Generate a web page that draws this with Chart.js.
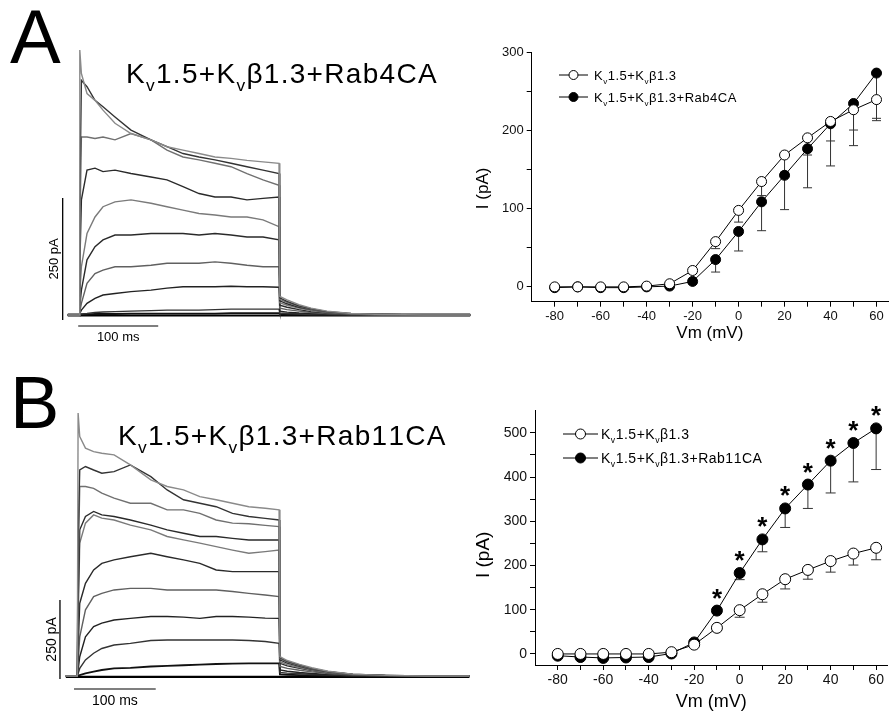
<!DOCTYPE html>
<html><head><meta charset="utf-8">
<script src="https://cdn.jsdelivr.net/npm/chart.js@4.4.1/dist/chart.umd.min.js"></script>
<style>
html,body{margin:0;padding:0;background:#fff;}
#page{position:relative;width:894px;height:715px;overflow:hidden;background:#fff;}
canvas{position:absolute;}
</style></head><body>
<div id="page">
<canvas id="trA" width="480" height="350" style="left:0;top:0"></canvas>
<canvas id="trB" width="480" height="355" style="left:0;top:360px"></canvas>
<canvas id="ivA" width="424" height="324" style="left:470px;top:20px"></canvas>
<canvas id="ivB" width="424" height="333" style="left:470px;top:380px"></canvas>
</div>
<script>
// ---------------- DATA ----------------
const V_MV = [-80,-70,-60,-50,-40,-30,-20,-10,0,10,20,30,40,50,60];
const X_TICKS = [-80,-70,-60,-50,-40,-30,-20,-10,0,10,20,30,40,50,60];
const Y_TICKS_A = [0,50,100,150,200,250,300];
const Y_TICKS_B = [0,50,100,150,200,250,300,350,400,450,500];

const NAME_CTRL  = 'Kv1.5+Kvβ1.3';
const NAME_RAB4  = 'Kv1.5+Kvβ1.3+Rab4CA';
const NAME_RAB11 = 'Kv1.5+Kvβ1.3+Rab11CA';

const A_CTRL     = [-1,-1,-1,-1,0,3,20,57,97,134,168,190,211,226,239];
const A_CTRL_ERR = [1,1,1,1,1,2,4,9,15,18,22,22,25,26,27];
const A_RAB4     = [-2,-1,-2,-2,-1,0,6,34,70,108,142,176,208,234,273];
const A_RAB4_ERR = [1,1,1,1,1,1,3,16,25,37,44,50,54,54,58];

const B_CTRL      = [0,0,0,0,0,4,21,59,99,135,169,190,210,227,240];
const B_CTRL_ERR  = [1,1,1,1,1,2,4,6,16,18,22,21,25,26,27];
const B_RAB11     = [-4,-7,-9,-8,-7,1,26,98,183,259,329,383,437,477,510];
const B_RAB11_ERR = [2,2,2,2,2,2,4,6,15,28,43,54,73,88,93];
const B_STARS     = [-10,0,10,20,30,40,50,60];

const SCALE_PA = 250, SCALE_MS = 100;

// current traces (ms, pA)
const TIME_A = [-14,0,1,3,10,20,30,45,65,90,110,130,150,170,190,210,230,250,251,260,275,290,310,340,380,430,489];
const A_T1  = [0,0,543,495,454,440,420,393,372,359,345,338,331,324,321,317,314,311,38,31,21,14,8,3,1,0,0];
const A_T2  = [0,0,235,481,468,440,427,406,379,359,345,331,324,318,311,304,297,290,35,28,19,13,7,3,1,0,0];
const A_T3  = [0,0,167,365,365,362,365,359,372,359,338,324,318,311,304,290,277,266,32,26,18,12,6,2,1,0,0];
const A_T4  = [0,0,99,236,297,301,294,297,290,283,277,263,249,242,242,236,239,242,29,23,16,11,6,2,1,0,0];
const A_T5  = [0,0,44,99,167,201,222,232,236,229,222,215,208,205,201,201,195,181,25,20,14,9,5,2,0,0,0];
const A_T6  = [0,0,17,51,113,140,154,164,164,167,167,167,164,167,164,160,160,154,20,16,11,7,4,1,0,0,0];
const A_T7  = [0,0,7,24,65,85,92,99,99,102,106,106,106,109,106,102,99,99,14,11,8,5,3,1,0,0,0];
const A_T8  = [0,0,3,10,24,34,41,44,48,51,55,58,58,58,59,58,58,57,8,6,4,3,2,1,0,0,0];
const A_T9  = [0,0,1,2,3,5,6,7,8,9,10,10,10,11,12,12,12,12,4,3,2,1,1,0,0,0,0];
const A_T10 = [1,1,0,1,1,2,2,2,3,3,3,3,3,3,4,4,4,4,2,1,1,0,0,0,1,1,1];
const A_T11 = [-1,-1,-1,-1,-1,-1,-1,-1,-1,-1,-1,-1,-1,-1,-1,-1,-1,-1,-1,-1,-1,-1,-1,-1,-1,-1,-1];

const TIME_B = [-14,0,1,3,10,20,30,45,65,90,110,130,150,170,190,210,230,247,248,257,272,287,307,337,377,427,480];
const B_T1  = [0,0,831,757,720,709,704,699,667,620,599,588,567,557,546,535,530,525,61,49,37,26,15,6,2,0,0];
const B_T2  = [0,0,441,651,662,651,641,646,667,630,588,557,546,535,514,504,498,493,58,46,35,24,14,6,2,0,0];
const B_T3  = [0,0,335,599,599,593,578,562,546,546,525,525,514,493,483,481,476,472,55,44,33,23,14,5,2,0,0];
const B_T4  = [0,0,230,462,504,520,509,504,493,477,462,451,441,441,435,430,430,430,51,41,31,21,13,5,2,0,0];
const B_T5  = [0,0,167,420,483,509,499,493,477,462,441,430,420,409,398,388,393,398,45,36,27,19,11,5,2,0,0];
const B_T6  = [0,0,82,230,293,335,356,367,377,388,377,367,356,335,330,330,330,330,40,32,24,17,10,4,1,0,0];
const B_T7  = [0,0,40,124,209,251,261,272,277,277,272,272,272,272,267,261,256,251,30,24,18,13,8,3,1,0,0];
const B_T8  = [0,0,19,61,124,156,167,177,182,188,188,186,182,188,188,186,183,182,19,15,11,8,5,2,1,0,0];
const B_T9  = [0,0,8,24,51,72,87,98,103,112,114,114,114,114,114,112,109,103,11,9,7,5,3,1,0,0,0];
const B_T10 = [0,0,1,3,8,14,19,24,26,30,32,34,36,38,39,40,40,40,5,4,3,2,1,0,0,0,0];
const B_T11 = [-3,-3,-3,-3,-3,-3,-3,-3,-3,-3,-3,-3,-3,-3,-3,-3,-3,-3,-3,-3,-3,-3,-3,-3,-3,-3,-3];

// ---------------- RENDERING ----------------
const FONT = '"Liberation Sans", Arial, Helvetica, sans-serif';
Chart.defaults.font.family = FONT;
Chart.defaults.color = '#000';

function drawRich(ctx, text, x, y, size, ls) {
  let cx = x;
  ctx.textBaseline = 'alphabetic';
  ctx.textAlign = 'left';
  for (let i = 0; i < text.length; i++) {
    const ch = text[i];
    const sub = ch === 'v' && text[i - 1] === 'K';
    const s = sub ? size * 0.62 : size;
    ctx.font = s + 'px ' + FONT;
    ctx.fillText(ch, cx, sub ? y + size * 0.3 : y);
    cx += ctx.measureText(ch).width + (ls || 0);
  }
  return cx - x;
}

function traceChart(id, time, traces, colors, widths, c) {
  const datasets = traces.map((vals, i) => ({
    data: time.map((t, j) => ({x: t, y: vals[j]})),
    showLine: true, borderColor: colors[i], borderWidth: widths[i],
    pointRadius: 0, tension: 0, fill: false
  }));
  datasets.push({
    data: [{x: c.vbarX, y: c.vbarY0}, {x: c.vbarX, y: c.vbarY0 + SCALE_PA}],
    showLine: true, borderColor: '#000', borderWidth: 1.3, pointRadius: 0
  });
  datasets.push({
    data: [{x: c.hbarX0, y: c.hbarY}, {x: c.hbarX0 + SCALE_MS, y: c.hbarY}],
    showLine: true, borderColor: '#555', borderWidth: 1.3, pointRadius: 0
  });
  const textPlugin = {
    id: 'traceText',
    afterDraw(chart) {
      const ctx = chart.ctx, xs = chart.scales.x, ys = chart.scales.y;
      ctx.save();
      ctx.fillStyle = '#000';
      ctx.font = c.letterSize + 'px ' + FONT;
      ctx.textBaseline = 'alphabetic'; ctx.textAlign = 'left';
      ctx.fillText(c.letter, c.letterX, c.letterY);
      drawRich(ctx, c.title, c.titleX, c.titleY, c.titleSize, c.titleLS);
      ctx.font = c.barFont + 'px ' + FONT;
      const vx = xs.getPixelForValue(c.vbarX);
      const vy = ys.getPixelForValue(c.vbarY0 + SCALE_PA / 2);
      ctx.save();
      ctx.translate(vx - c.vGap, vy);
      ctx.rotate(-Math.PI / 2);
      ctx.textAlign = 'center'; ctx.textBaseline = 'middle';
      ctx.fillText(SCALE_PA + ' pA', 0, 0);
      ctx.restore();
      const hx = xs.getPixelForValue(c.hbarX0 + SCALE_MS / 2);
      const hy = ys.getPixelForValue(c.hbarY);
      ctx.textAlign = 'center'; ctx.textBaseline = 'middle';
      ctx.fillText(SCALE_MS + ' ms', hx, hy + c.hGap);
      ctx.restore();
    }
  };
  new Chart(document.getElementById(id), {
    type: 'scatter',
    data: {datasets},
    options: {
      responsive: false, animation: false, events: [],
      layout: {padding: 0},
      plugins: {legend: {display: false}, tooltip: {enabled: false}},
      scales: {
        x: {type: 'linear', display: false, min: c.xmin, max: c.xmax},
        y: {type: 'linear', display: false, min: c.ymin, max: c.ymax}
      }
    },
    plugins: [textPlugin]
  });
}

function ivChart(id, series, c) {
  const datasets = series.map(s => ({
    label: s.name,
    data: V_MV.map((v, i) => ({x: v, y: s.vals[i]})),
    showLine: true, borderColor: '#000', borderWidth: 1,
    pointRadius: c.r, pointHoverRadius: c.r, pointBorderWidth: 1,
    pointBorderColor: '#000', pointBackgroundColor: s.filled ? '#000' : '#fff',
    tension: 0
  }));
  const extras = {
    id: 'ivExtras',
    beforeDatasetsDraw(chart) {
      const ctx = chart.ctx, xs = chart.scales.x, ys = chart.scales.y;
      ctx.save(); ctx.strokeStyle = '#333'; ctx.lineWidth = 1;
      series.forEach(s => {
        V_MV.forEach((v, i) => {
          const e = s.err[i];
          const x = xs.getPixelForValue(v);
          const y0 = ys.getPixelForValue(s.vals[i]);
          const y1 = ys.getPixelForValue(s.vals[i] - e);
          ctx.beginPath();
          ctx.moveTo(x, y0); ctx.lineTo(x, y1);
          ctx.moveTo(x - c.cap, y1); ctx.lineTo(x + c.cap, y1);
          ctx.stroke();
        });
      });
      ctx.restore();
    },
    afterDatasetsDraw(chart) {
      const ctx = chart.ctx, xs = chart.scales.x, ys = chart.scales.y, ca = chart.chartArea;
      ctx.save();
      ctx.fillStyle = '#000'; ctx.strokeStyle = '#000';
      if (c.stars) {
        ctx.font = 'bold ' + c.starSize + 'px ' + FONT;
        ctx.textAlign = 'center'; ctx.textBaseline = 'alphabetic';
        const m = ctx.measureText('*');
        const mid = (m.actualBoundingBoxAscent - m.actualBoundingBoxDescent) / 2;
        c.stars.forEach(v => {
          const i = V_MV.indexOf(v);
          const s = series[c.starSeries];
          const x = xs.getPixelForValue(v), y = ys.getPixelForValue(s.vals[i]);
          ctx.fillText('*', x, y - c.starDy + mid);
        });
      }
      series.forEach((s, k) => {
        const y = ca.top + c.legDy[k];
        const x0 = ca.left + c.legDx;
        ctx.lineWidth = 1;
        ctx.beginPath(); ctx.moveTo(x0, y); ctx.lineTo(x0 + c.legLen, y); ctx.stroke();
        ctx.beginPath(); ctx.arc(x0 + c.legLen / 2, y, c.legR, 0, Math.PI * 2);
        ctx.fillStyle = s.filled ? '#000' : '#fff'; ctx.fill(); ctx.stroke();
        ctx.fillStyle = '#000';
        drawRich(ctx, s.name, x0 + c.legLen + c.legGap, y + c.legSize * 0.36, c.legSize, c.legLS);
      });
      ctx.save();
      ctx.font = c.yTitleSize + 'px ' + FONT;
      ctx.translate(c.yTitleX, (ca.top + ca.bottom) / 2 + c.yTitleDy);
      ctx.rotate(-Math.PI / 2);
      ctx.textAlign = 'center'; ctx.textBaseline = 'middle';
      ctx.fillText('I (pA)', 0, 0);
      ctx.restore();
      ctx.restore();
    }
  };
  const gridOpts = {display: true, drawOnChartArea: false, drawTicks: true, tickLength: 5, tickColor: '#000', tickWidth: 1};
  new Chart(document.getElementById(id), {
    type: 'scatter',
    data: {datasets},
    options: {
      responsive: false, animation: false, events: [],
      layout: {padding: {top: c.padTop, left: 0, right: 0, bottom: 0}},
      plugins: {legend: {display: false}, tooltip: {enabled: false}},
      scales: {
        x: {
          type: 'linear', min: -90, max: 65,
          afterBuildTicks: s => { s.ticks = X_TICKS.map(v => ({value: v})); },
          afterFit: s => { s.height = c.xAxisH; },
          ticks: {autoSkip: false, maxRotation: 0, padding: 2, color: '#111',
                  font: {size: c.tickSize}, callback: v => (v % 20 === 0 ? String(v) : '')},
          grid: gridOpts,
          border: {display: true, color: '#000', width: 1},
          title: {display: true, text: 'Vm (mV)', color: '#000', font: {size: c.xTitleSize}, padding: 0}
        },
        y: {
          type: 'linear', min: c.ymin, max: c.ymax,
          afterBuildTicks: s => { s.ticks = c.yTicks.map(v => ({value: v})); },
          afterFit: s => { s.width = c.yAxisW; },
          ticks: {autoSkip: false, padding: 3, color: '#111',
                  font: {size: c.tickSize}, callback: v => (v % 100 === 0 ? String(v) : '')},
          grid: gridOpts,
          border: {display: true, color: '#000', width: 1}
        }
      }
    },
    plugins: [extras]
  });
}

const TRACE_COLORS = ['#8a8a8a','#333','#707070','#2a2a2a','#7a7a7a','#2a2a2a','#606060','#222','#333','#111','#000'];
const TRACE_WIDTHS = [1.4,1.4,1.4,1.4,1.4,1.4,1.4,1.4,1.4,1.8,2.2];

traceChart('trA', TIME_A, [A_T1,A_T2,A_T3,A_T4,A_T5,A_T6,A_T7,A_T8,A_T9,A_T10,A_T11], TRACE_COLORS, TRACE_WIDTHS, {
  xmin: -98.75, xmax: 501.25, ymin: -71.75, ymax: 645.75,
  vbarX: -20.4, vbarY0: -10, hbarX0: -1, hbarY: -22.5,
  vGap: 8, hGap: 11.5, barFont: 13,
  letter: 'A', letterX: 10, letterY: 63, letterSize: 76,
  title: NAME_RAB4, titleX: 126, titleY: 83, titleSize: 28, titleLS: 1.3
});
traceChart('trB', TIME_B, [B_T1,B_T2,B_T3,B_T4,B_T5,B_T6,B_T7,B_T8,B_T9,B_T10,B_T11], TRACE_COLORS, TRACE_WIDTHS, {
  xmin: -94.6, xmax: 492.9, ymin: -123.2, ymax: 998.6,
  vbarX: -21.2, vbarY0: -9.5, hbarX0: -4, hbarY: -41,
  vGap: 8, hGap: 12, barFont: 14,
  letter: 'B', letterX: 10, letterY: 68, letterSize: 74,
  title: NAME_RAB11, titleX: 118, titleY: 85, titleSize: 28, titleLS: 1.3
});

ivChart('ivA', [
  {name: NAME_CTRL, vals: A_CTRL, err: A_CTRL_ERR, filled: false},
  {name: NAME_RAB4, vals: A_RAB4, err: A_RAB4_ERR, filled: true}
], {
  ymin: -20, ymax: 300, yTicks: Y_TICKS_A, padTop: 32, xAxisH: 42.3, yAxisW: 61.7,
  tickSize: 13, xTitleSize: 17, yTitleSize: 17, yTitleX: 13.5, yTitleDy: 11.5,
  r: 5, cap: 4.5,
  legDx: 27.3, legDy: [23, 45], legLen: 29, legGap: 6, legR: 4.5, legSize: 13, legLS: 0.5
});
ivChart('ivB', [
  {name: NAME_CTRL, vals: B_CTRL, err: B_CTRL_ERR, filled: false},
  {name: NAME_RAB11, vals: B_RAB11, err: B_RAB11_ERR, filled: true}
], {
  ymin: -25, ymax: 550, yTicks: Y_TICKS_B, padTop: 30.7, xAxisH: 48, yAxisW: 65,
  tickSize: 14, xTitleSize: 18, yTitleSize: 19, yTitleX: 14, yTitleDy: 17,
  r: 5.5, cap: 5,
  legDx: 28, legDy: [23.3, 47.3], legLen: 35, legGap: 3, legR: 5, legSize: 14, legLS: 0.5,
  stars: B_STARS, starSeries: 1, starSize: 26, starDy: 17
});
</script>
</body></html>
